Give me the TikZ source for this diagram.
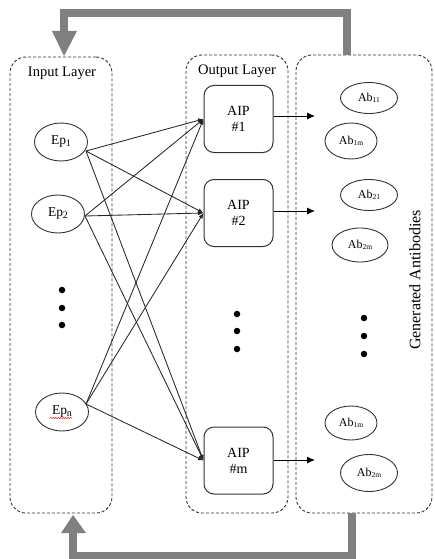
\documentclass[tikz,border=0pt]{standalone}
\usepackage{fontspec}
\setmainfont{Liberation Serif}
\usetikzlibrary{shapes.geometric,arrows.meta,decorations.pathmorphing}
\begin{document}
\begin{tikzpicture}[x=1pt,y=-1pt,
  layerbox/.style={draw=black!80,line width=0.9pt,dash pattern=on 3pt off 2pt,rounded corners=16pt,inner sep=0pt},
  epnode/.style={draw=black!80,line width=0.9pt,ellipse,minimum width=53pt,minimum height=38pt,inner sep=0pt,font=\fontsize{13.5}{16}\selectfont},
  abnode/.style={draw=black!80,line width=0.9pt,ellipse,minimum width=55pt,minimum height=33pt,inner sep=0pt,font=\fontsize{12}{14}\selectfont},
  aipbox/.style={draw=black!80,line width=1pt,rounded corners=10pt,minimum width=69pt,minimum height=67pt,inner sep=0pt,align=center,font=\fontsize{14}{16}\selectfont},
  link/.style={draw=black!85,line width=0.85pt,-{Latex[length=5.5pt,width=4.5pt]}},
  outarrow/.style={draw=black,line width=0.9pt,-{Latex[length=8pt,width=7pt]}},
  feedback/.style={draw=black!50,line width=8pt},
  dotmark/.style={circle,fill=black,inner sep=0pt,minimum size=6.5pt},
  title/.style={font=\fontsize{14.5}{17}\selectfont}
]
\useasboundingbox (0,0) rectangle (434,559);

% layer boxes
\node[layerbox,minimum width=102pt,minimum height=456pt] (inbox) at (61,285) {};
\node[layerbox,minimum width=102pt,minimum height=458pt] (outbox) at (237,284) {};
\node[layerbox,minimum width=136pt,minimum height=458pt] (abbox) at (364,284) {};

\node[title] (intitle) at (62,73) {Input Layer};
\node[title] (outtitle) at (237,71) {Output Layer};
\node[rotate=90,font=\fontsize{16}{18}\selectfont] (gentitle) at (415,280) {Generated\ Antibodies};

% input nodes
\newcommand{\epsub}[1]{Ep{\fontsize{10}{12}\selectfont\raisebox{-1.2pt}{#1}}}
\newcommand{\absub}[1]{Ab{\fontsize{7.5}{9}\selectfont\raisebox{-1pt}{#1}}}
\node[epnode] (ep1) at (61,142) {\epsub{1}};
\node[epnode] (ep2) at (58,214) {\epsub{2}};
\node[epnode] (epn) at (62,412) {\epsub{n}};
\draw[red,line width=0.5pt,decorate,decoration={snake,amplitude=0.6pt,segment length=2.5pt}]
  ([shift={(-12,6)}]epn.center) -- ([shift={(10,6)}]epn.center);

% AIP boxes
\node[aipbox] (aip1) at (238.5,119) {AIP\\\#1};
\node[aipbox] (aip2) at (238.5,213) {AIP\\\#2};
\node[aipbox] (aipm) at (238.5,460.5) {AIP\\\#m};

% antibodies
\node[abnode,minimum width=57pt,minimum height=31pt] (ab11) at (369,98) {\absub{11}};
\node[abnode,minimum width=52pt,minimum height=36pt] (ab1m) at (351,141) {\absub{1m}};
\node[abnode,minimum width=57pt,minimum height=31pt] (ab21) at (369,195) {\absub{21}};
\node[abnode,minimum width=56pt,minimum height=34pt] (ab2m) at (360,245) {\absub{2m}};
\node[abnode,minimum width=52pt,minimum height=34pt] (ab1mb) at (351,423) {\absub{1m}};
\node[abnode,minimum width=57pt,minimum height=37pt] (ab2mb) at (369,473) {\absub{2m}};

% dots
\foreach \y [count=\i] in {290,308,325} \node[dotmark] (din\i) at (62,\y) {};
\foreach \y [count=\i] in {314,331,349} \node[dotmark] (dout\i) at (237,\y) {};
\foreach \y [count=\i] in {318,336,354} \node[dotmark] (dab\i) at (364,\y) {};

% links
\coordinate (s1) at ([shift={(25,9)}]ep1.center);
\coordinate (s2) at ([shift={(27,2)}]ep2.center);
\coordinate (sn) at ([shift={(24,-8)}]epn.center);
\foreach \s in {s1,s2,sn}{
  \draw[link] (\s) -- (aip1.west);
  \draw[link] (\s) -- (aip2.west);
  \draw[link] (\s) -- (aipm.west);
}

% outputs
\coordinate (o1) at (315,116);
\coordinate (o2) at (315,211);
\coordinate (om) at (315,460);
\draw[outarrow] (aip1.east |- o1) -- (o1);
\draw[outarrow] (aip2.east |- o2) -- (o2);
\draw[outarrow] (aipm.east |- om) -- (om);

% feedback arrows
\coordinate (ftop) at (347,13);
\coordinate (fbot) at (352,556);
\draw[feedback] (abbox.north -| ftop) -- (ftop) -| (64,31);
\fill[black!50] (52,31) -- (77,31) -- (64,56) -- cycle;
\draw[feedback] (abbox.south -| fbot) -- (fbot) -| (73,532);
\fill[black!50] (61,533) -- (86,533) -- (73,515) -- cycle;
\end{tikzpicture}
\end{document}
